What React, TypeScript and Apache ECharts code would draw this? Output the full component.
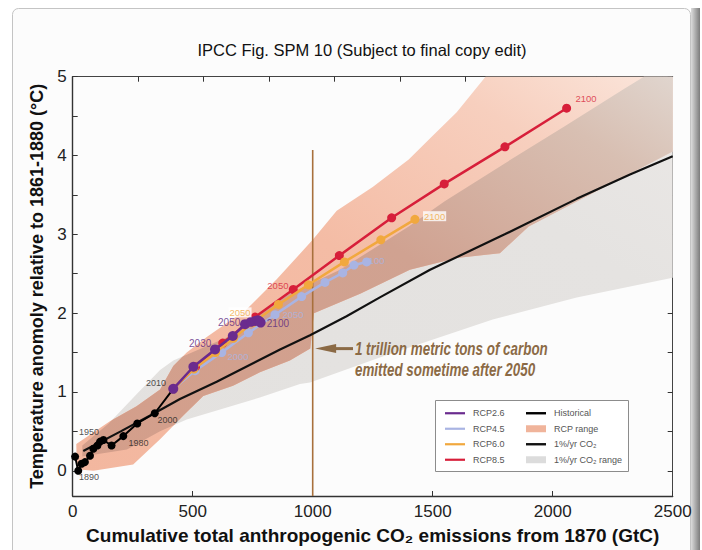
import React, { useEffect, useRef } from "react";
import * as echarts from "echarts";

// ---------------- data ----------------
const TITLE = "IPCC Fig. SPM 10 (Subject to final copy edit)";
const X_TITLE = "Cumulative total anthropogenic CO₂ emissions from 1870 (GtC)";
const Y_TITLE = "Temperature anomoly relative to 1861-1880 (°C)";

const xTickInterval = 500;
const yTickValues = [0, 0.5, 1, 1.5, 2, 2.5, 3, 3.5, 4, 4.5, 5];
const yLabelValues = [0, 1, 2, 3, 4, 5];

const histX = [10, 23, 37, 51, 72, 86, 103, 114, 128, 162, 211, 269, 342, 419];
const histY = [0.18, 0.0, 0.09, 0.11, 0.19, 0.28, 0.32, 0.37, 0.39, 0.32, 0.44, 0.6, 0.73, 1.04];

const rcp26X = [419, 503, 593, 667, 718, 743, 760, 771, 777, 783];
const rcp26Y = [1.04, 1.32, 1.54, 1.71, 1.86, 1.89, 1.9, 1.91, 1.9, 1.88];
const rcp45X = [419, 510, 621, 732, 843, 954, 1051, 1125, 1172, 1225];
const rcp45Y = [1.04, 1.27, 1.5, 1.75, 1.98, 2.21, 2.39, 2.51, 2.61, 2.65];
const rcp60X = [419, 505, 595, 670, 750, 857, 982, 1132, 1284, 1426];
const rcp60Y = [1.04, 1.29, 1.5, 1.68, 1.88, 2.11, 2.36, 2.65, 2.93, 3.19];
const rcp85X = [419, 512, 625, 760, 919, 1111, 1329, 1548, 1801, 2058];
const rcp85Y = [1.04, 1.32, 1.62, 1.95, 2.3, 2.73, 3.21, 3.64, 4.11, 4.6];

const pctX = [44, 200, 340, 447, 600, 864, 989, 1141, 1280, 1489, 1800, 2100, 2322, 2500];
const pctY = [0.25, 0.5, 0.73, 0.91, 1.13, 1.54, 1.72, 1.96, 2.2, 2.55, 3.0, 3.45, 3.76, 3.99];

// RCP range outline (upper edge left->right, then lower edge right->left)
const rcpRangeX = [15, 155, 266, 364, 419, 475, 560, 725, 850, 1000, 1100, 1250, 1400, 1500, 1600, 1720, 2500,
  2500, 1900, 1780, 1600, 1405, 1200, 1005, 990, 905, 780, 668, 544, 461, 364, 252, 86, 17];
const rcpRangeY = [0.34, 0.63, 0.82, 1.03, 1.33, 1.5, 1.7, 2.05, 2.43, 2.93, 3.3, 3.6, 3.95, 4.25, 4.55, 5.0, 5.0,
  4.05, 3.1, 2.76, 2.7, 2.55, 2.25, 2.0, 1.55, 1.4, 1.25, 1.08, 0.95, 0.7, 0.4, 0.08, 0.0, 0.02];

// 1%/yr CO2 range outline
const pctRangeX = [40, 150, 266, 364, 419, 656, 905, 1114, 1400, 1550, 1800, 2050, 2300, 2380, 2500,
  2500, 2100, 1750, 1300, 989, 947, 780, 475, 364, 226, 40];
const pctRangeY = [0.32, 0.6, 0.97, 1.28, 1.4, 1.71, 2.25, 2.55, 3.1, 3.42, 3.9, 4.37, 4.85, 5.0, 5.0,
  2.45, 2.2, 1.92, 1.46, 1.12, 1.1, 0.93, 0.65, 0.5, 0.27, 0.18];

const histLabels = ["1890", "1950", "1980", "2000", "2010"];
const histLabelX = [68, 68, 274, 395, 347];
const histLabelY = [-0.085, 0.486, 0.35, 0.645, 1.12];
const rcp26Labels = ["2030", "2050", "2100"];
const rcp26LabelX = [531, 652, 855];
const rcp26LabelY = [1.615, 1.88, 1.87];
const rcp45Labels = ["2000", "2050", "2100"];
const rcp45LabelX = [689, 918, 1255];
const rcp45LabelY = [1.455, 1.98, 2.667];
const rcp60Labels = ["2050", "2100"];
const rcp60LabelX = [697, 1508];
const rcp60LabelY = [2.01, 3.23];
const rcp85Labels = ["2050", "2100"];
const rcp85LabelX = [855, 2139];
const rcp85LabelY = [2.35, 4.72];

const markerX = 1000;
const markerTopY = 4.07;
const noteLines = ["1 trillion metric tons of carbon", "emitted sometime after 2050"];
const noteY = 1.55;
const arrowTipX = 1010;
const arrowTailX = 1168;
const noteTextX = 1176;

// ---------------- styling ----------------
const FONT = '"Liberation Sans", Arial, Helvetica, sans-serif';
const C26 = "#6a2b8e";
const C45 = "#a9b4e3";
const C60 = "#f1a83e";
const C85 = "#d71f3a";
const NOTE = "#8b6a45";
const Y_MIN = -0.32;
const Y_MAX = 5;
const X_MAX = 2500;

function pairs(xs: number[], ys: number[]) {
  return xs.map((x, i) => [x, ys[i]]);
}

export default function App() {
  const ref = useRef<HTMLDivElement>(null);

  useEffect(() => {
    if (!ref.current) return;
    const chart = echarts.init(ref.current, null, { renderer: "svg" });

    const grad = (stops: [number, string][]) =>
      new echarts.graphic.LinearGradient(0, 1, 1, 0, stops.map(([offset, color]) => ({ offset, color })));

    const rcpFill = grad([[0, "#f3b79f"], [0.5, "#f4bca5"], [0.8, "#f7cfbe"], [1, "#fbe6dc"]]);
    const grayFill = grad([[0, "#e3e1df"], [0.7, "#e5e3e1"], [1, "#ebe8e6"]]);
    const overlapFill = grad([[0, "#d49e8a"], [0.55, "#d0a291"], [0.85, "#d8bfb2"], [1, "#e0d5ce"]]);

    const rcpPts = pairs(rcpRangeX, rcpRangeY);
    const pctPts = pairs(pctRangeX, pctRangeY);

    const poly = (name: string | undefined, pts: number[][], fill: any, legendColor: string, clipPts?: number[][]) => ({
      type: "custom",
      name,
      xAxisIndex: 0,
      yAxisIndex: 0,
      z: 1,
      silent: true,
      itemStyle: { color: legendColor },
      data: [pts[0]],
      renderItem: (_p: any, api: any) => {
        const el: any = {
          type: "polygon",
          shape: { points: pts.map((p) => api.coord(p)) },
          style: { fill },
        };
        if (clipPts) {
          el.clipPath = { type: "polygon", shape: { points: clipPts.map((p) => api.coord(p)) } };
        }
        return el;
      },
    });

    const line = (name: string, xs: number[], ys: number[], color: string, width: number, size: number, z: number) => ({
      type: "line",
      name,
      xAxisIndex: 0,
      yAxisIndex: 0,
      data: pairs(xs, ys),
      symbol: size > 0 ? "circle" : "none",
      symbolSize: size,
      showAllSymbol: true,
      lineStyle: { color, width },
      itemStyle: { color, borderWidth: 0 },
      z,
      silent: true,
    });

    const labels = (texts: string[], xs: number[], ys: number[], color: string, extra: any = {}) => ({
      type: "scatter",
      xAxisIndex: 0,
      yAxisIndex: 0,
      data: texts.map((t, i) => ({ value: [xs[i], ys[i]], label: { formatter: t } })),
      symbolSize: 1,
      itemStyle: { color: "rgba(0,0,0,0)" },
      label: { show: true, position: "inside", color, fontSize: 9.5, fontFamily: FONT, ...extra },
      z: 9,
      silent: true,
    });

    const axisLine = { show: true, onZero: false, lineStyle: { color: "#333", width: 1.4 } };
    const tick = { show: true, inside: true, length: 5, lineStyle: { color: "#333", width: 1 } };

    const legendBase = {
      orient: "vertical",
      selectedMode: false,
      icon: "rect",
      itemWidth: 20,
      padding: 0,
      z: 6,
      itemStyle: { borderWidth: 0 },
      textStyle: { fontSize: 9, color: "#555", lineHeight: 15.5, padding: [0, 0, 0, 3], fontFamily: FONT },
    };

    const option: any = {
      animation: false,
      textStyle: { fontFamily: FONT },
      title: {
        text: TITLE,
        left: 362,
        top: 41,
        textAlign: "center",
        padding: 0,
        textStyle: { fontSize: 16.5, fontWeight: "normal", color: "#111", fontFamily: FONT },
      },
      grid: { left: 72.7, right: 29.3, top: 76.7, bottom: 53 },
      legend: [
        { ...legendBase, data: ["RCP2.6", "RCP4.5", "RCP6.0", "RCP8.5"], left: 445, top: 405.5, itemHeight: 2.2, itemGap: 0 },
        { ...legendBase, data: ["Historical", "1%/yr CO₂"], left: 526, top: 405.5, itemHeight: 2.4, itemGap: 15.5 },
        { ...legendBase, data: ["RCP range", "1%/yr CO₂ range"], left: 526, top: 421, itemHeight: 7, itemGap: 15.5 },
      ],
      xAxis: [
        {
          type: "value",
          position: "bottom",
          min: 0,
          max: X_MAX,
          interval: xTickInterval,
          axisLine,
          axisTick: tick,
          splitLine: { show: false },
          axisLabel: { fontSize: 17, color: "#222", margin: 7, fontFamily: FONT, formatter: (v: number) => String(v) },
          name: X_TITLE,
          nameLocation: "middle",
          nameGap: 30,
          nameTextStyle: { fontSize: 19, fontWeight: "bold", color: "#111", fontFamily: FONT },
        },
        {
          type: "value",
          position: "top",
          min: 0,
          max: (X_MAX * 44) / 12,
          interval: 1000,
          axisLine: { ...axisLine, lineStyle: { color: "#444", width: 1 } },
          axisTick: tick,
          splitLine: { show: false },
          axisLabel: { show: false },
        },
      ],
      yAxis: [
        {
          type: "value",
          position: "left",
          min: Y_MIN,
          max: Y_MAX,
          axisLine,
          axisTick: { ...tick, customValues: yTickValues },
          splitLine: { show: false },
          axisLabel: { customValues: yLabelValues, fontSize: 17, color: "#222", margin: 6, fontFamily: FONT },
          name: Y_TITLE,
          nameLocation: "middle",
          nameGap: 26,
          nameTextStyle: { fontSize: 18, fontWeight: "bold", color: "#111", fontFamily: FONT },
        },
        {
          type: "value",
          position: "right",
          min: Y_MIN,
          max: Y_MAX,
          axisLine: { ...axisLine, lineStyle: { color: "#444", width: 1 } },
          axisTick: { ...tick, customValues: yTickValues },
          splitLine: { show: false },
          axisLabel: { show: false },
        },
      ],
      series: [
        poly("1%/yr CO₂ range", pctPts, grayFill, "#dcdcdc"),
        poly("RCP range", rcpPts, rcpFill, "#f0b49b"),
        poly(undefined, rcpPts, overlapFill, "#cf9f8c", pctPts),
        {
          type: "line",
          xAxisIndex: 0,
          yAxisIndex: 0,
          data: [[markerX, Y_MIN], [markerX, markerTopY]],
          symbol: "none",
          lineStyle: { color: "#a8703c", width: 1.6 },
          z: 3,
          silent: true,
        },
        line("1%/yr CO₂", pctX, pctY, "#111", 2.2, 0, 4),
        line("Historical", histX, histY, "#000", 2, 8, 5),
        line("RCP4.5", rcp45X, rcp45Y, C45, 2.5, 9, 5),
        line("RCP8.5", rcp85X, rcp85Y, C85, 2.5, 9, 6),
        line("RCP6.0", rcp60X, rcp60Y, C60, 2.5, 9, 7),
        line("RCP2.6", rcp26X, rcp26Y, C26, 2.5, 10, 8),
        labels(histLabels, histLabelX, histLabelY, "#222", { fontSize: 9 }),
        labels(rcp26Labels, rcp26LabelX, rcp26LabelY, "#5a2680", { fontSize: 10 }),
        labels(rcp45Labels, rcp45LabelX, rcp45LabelY, C45),
        labels(rcp60Labels, rcp60LabelX, rcp60LabelY, C60, { backgroundColor: "#fff", padding: [0, 1] }),
        labels(rcp85Labels, rcp85LabelX, rcp85LabelY, C85),
      ],
    };

    chart.setOption(option);

    const HIST_IDX = 5;
    const px = (p: number[]) => chart.convertToPixel({ seriesIndex: HIST_IDX }, p) as number[];
    const tip = px([arrowTipX, noteY]);
    const tail = px([arrowTailX, noteY]);
    const txt = px([noteTextX, noteY]);

    chart.setOption({
      graphic: {
        elements: [
          {
            type: "rect",
            z: -10,
            silent: true,
            shape: { x: 12.5, y: 8.5, width: 678, height: 600, r: 6 },
            style: { fill: "#fcfcfc", stroke: "#c4c4c4", lineWidth: 1 },
          },
          {
            type: "rect",
            z: -9,
            silent: true,
            shape: { x: 691, y: 8, width: 9, height: 542 },
            style: {
              fill: new echarts.graphic.LinearGradient(0, 0, 1, 0, [
                { offset: 0, color: "#dcdcdc" },
                { offset: 1, color: "#7c7c7c" },
              ]),
            },
          },
          {
            type: "rect",
            z: 5,
            silent: true,
            shape: { x: 435.5, y: 400.5, width: 193, height: 71 },
            style: { fill: "#ffffff", stroke: "#8c8c8c", lineWidth: 1 },
          },
          {
            type: "line",
            z: 10,
            silent: true,
            shape: { x1: tip[0] + 16, y1: tip[1], x2: tail[0], y2: tail[1] },
            style: { stroke: NOTE, lineWidth: 3 },
          },
          {
            type: "polygon",
            z: 10,
            silent: true,
            shape: { points: [[tip[0], tip[1]], [tip[0] + 21, tip[1] - 4.5], [tip[0] + 21, tip[1] + 4.5]] },
            style: { fill: NOTE },
          },
          ...noteLines.map((t, i) => ({
            type: "text",
            z: 10,
            silent: true,
            x: txt[0],
            y: txt[1] + i * 21,
            scaleX: 0.745,
            style: {
              text: t,
              fill: NOTE,
              fontSize: 18,
              fontWeight: "bold",
              fontStyle: "italic",
              fontFamily: FONT,
              align: "left",
              verticalAlign: "middle",
            },
          })),
        ],
      },
    });

    return () => chart.dispose();
  }, []);

  return (
    <div
      ref={ref}
      style={{ position: "fixed", left: 0, top: 0, width: 702, height: 550, background: "#ffffff" }}
    />
  );
}
